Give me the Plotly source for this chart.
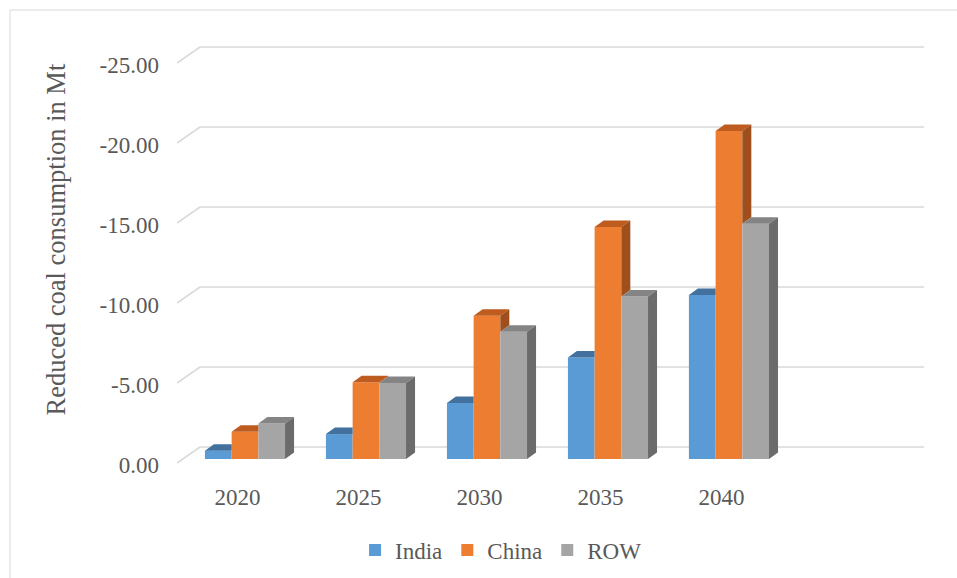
import plotly.graph_objects as go

# ---- data ----
years = ["2020", "2025", "2030", "2035", "2040"]
india = [-0.52, -1.56, -3.5, -6.35, -10.25]
china = [-1.70, -4.80, -8.96, -14.5, -20.5]
row = [-2.22, -4.75, -7.96, -10.15, -14.7]
series_names = ["India", "China", "ROW"]
y_tick_vals = [0, -5, -10, -15, -20, -25]
y_tick_labels = ["0.00", "-5.00", "-10.00", "-15.00", "-20.00", "-25.00"]

# ---- style / geometry constants ----
front_colors = ["#5B9BD5", "#ED7D31", "#A5A5A5"]
top_colors = ["#41719C", "#BE5B1F", "#848484"]
side_colors = ["#3F6E9A", "#9E4F1C", "#6B6B6B"]
FONT = "Liberation Serif, Times New Roman, serif"
TXT = "#595959"
GRID = "#D9D9D9"
N_SLOTS = 6            # Excel keeps one empty category slot on the right
BAR_W = 0.2207         # width of one column (category units)
GROUP_SHIFT = 0.062    # perspective shift of the column row
DX = 0.0744            # depth offset in x (category units)
DY = 0.406             # depth offset in y (value units, towards negative = up)
WALL_DX = 0.19         # back wall offset in x
WALL_DY = 0.75         # back wall offset in y
FRONT_DY = 0.25        # front floor edge offset (down)
X_MIN, X_MAX = -0.5, 5.674
Y_RANGE = [0.6875, -26.1875]

all_vals = [india, china, row]
cat_x = list(range(len(years)))

fig = go.Figure()

# back-wall gridlines (as shapes, below traces)
shapes = []
for t in y_tick_vals:
    path = (f"M {X_MIN},{t + FRONT_DY} L {X_MIN + WALL_DX},{t - WALL_DY} "
            f"L {X_MAX},{t - WALL_DY}")
    shapes.append(dict(type="path", path=path, xref="x", yref="y",
                       line=dict(color=GRID, width=1.6), layer="below"))

# chart border
shapes.append(dict(type="rect", xref="paper", yref="paper",
                   x0=-0.2236, x1=1.07, y0=-0.35, y1=1.0698,
                   line=dict(color=GRID, width=1), layer="below"))

# front faces
for s, (name, vals) in enumerate(zip(series_names, all_vals)):
    xs = [c + GROUP_SHIFT + (s - 1) * BAR_W for c in cat_x]
    fig.add_trace(go.Bar(
        x=xs, y=vals, width=BAR_W, name=name,
        marker=dict(color=front_colors[s], line=dict(width=0)),
        hoverinfo="skip"))

# top and side faces (only visible parts, computed from data)
for s in range(3):
    top_x, top_y, side_x, side_y = [], [], [], []
    for i, c in enumerate(cat_x):
        v = all_vals[s][i]
        xl = c + GROUP_SHIFT + (s - 1) * BAR_W - BAR_W / 2
        xr = xl + BAR_W
        nxt = all_vals[s + 1][i] if s < 2 else None
        # top face
        if nxt is not None and abs(nxt) >= abs(v):
            px = [xl, xr, xr, xl + DX, xl]
            py = [v, v, v - DY, v - DY, v]
        else:
            px = [xl, xr, xr + DX, xl + DX, xl]
            py = [v, v, v - DY, v - DY, v]
        top_x += px + [None]
        top_y += py + [None]
        # side face
        if nxt is None:
            base = 0
        elif abs(nxt) < abs(v):
            base = nxt
        else:
            base = None
        if base is not None:
            side_x += [xr, xr, xr + DX, xr + DX, xr, None]
            side_y += [base, v, v - DY, base - DY, base, None]
    fig.add_trace(go.Scatter(x=top_x, y=top_y, mode="lines", fill="toself",
                             fillcolor=top_colors[s], line=dict(width=0),
                             showlegend=False, hoverinfo="skip"))
    if side_x:
        fig.add_trace(go.Scatter(x=side_x, y=side_y, mode="lines", fill="toself",
                                 fillcolor=side_colors[s], line=dict(width=0),
                                 showlegend=False, hoverinfo="skip"))

fig.update_layout(
    width=957, height=578,
    margin=dict(l=177, r=33, t=40, b=108),
    paper_bgcolor="white", plot_bgcolor="white",
    barmode="overlay",
    font=dict(family=FONT, color=TXT, size=23),
    shapes=shapes,
    xaxis=dict(range=[X_MIN, X_MAX], tickvals=cat_x, ticktext=years,
               showgrid=False, zeroline=False, showline=False,
               ticks="outside", ticklen=6, tickcolor="rgba(0,0,0,0)",
               tickfont=dict(size=23, color=TXT, family=FONT)),
    yaxis=dict(range=Y_RANGE, tickvals=y_tick_vals, ticktext=y_tick_labels,
               showgrid=False, zeroline=False, showline=False,
               ticks="", ticklabelstandoff=17, ticklabelshift=-6,
               tickfont=dict(size=23, color=TXT, family=FONT)),
    legend=dict(orientation="h", xref="container", yref="container",
                x=0.371, xanchor="left", y=0.0484, yanchor="middle",
                font=dict(size=23, color=TXT, family=FONT),
                itemwidth=30, bgcolor="rgba(0,0,0,0)"),
    annotations=[dict(text="Reduced coal consumption in Mt", xref="paper",
                      yref="paper", x=-0.162, y=0.536, textangle=-90,
                      showarrow=False, xanchor="center", yanchor="middle",
                      font=dict(size=26.5, color=TXT, family=FONT))],
)

fig.write_html("out.html")
